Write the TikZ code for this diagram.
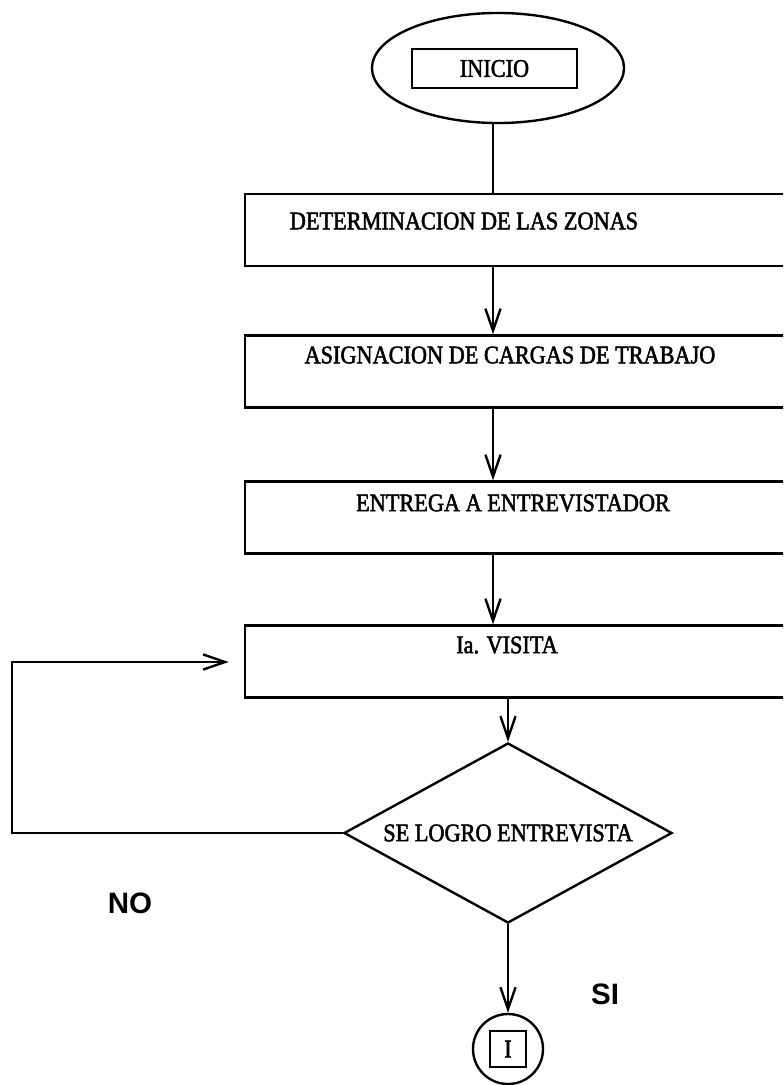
\documentclass[tikz,border=0pt]{standalone}
\usepackage{fontspec}
\setmainfont{Liberation Serif}
\newfontfamily\flowfont{Liberation Serif}[FakeStretch=0.88, FakeBold=2]
\newfontfamily\labelsans{Liberation Sans}
\usetikzlibrary{positioning, arrows.meta, shapes.geometric}

\begin{document}
\begin{tikzpicture}[x=0.025cm, y=-0.025cm, line width=1.7pt,
    procbox/.style={draw, rectangle, minimum width=13.875cm, minimum height=1.8cm, inner sep=0pt},
    boxlabel/.style={font=\flowfont\fontsize{18}{20}\selectfont, inner sep=0pt},
    answer/.style={font=\labelsans\bfseries\fontsize{21}{23}\selectfont, inner sep=0pt},
    flow/.style={-{Straight Barb[length=5.5mm, width=3.8mm]}}]
    % page frame, the boxes run past the right edge
    \clip (0,0) rectangle (783,1085);

    % start symbol
    \node[draw, ellipse, minimum width=6.3cm, minimum height=2.75cm] (start) at (498,68) {};
    \node[draw, minimum width=4.125cm, minimum height=0.975cm, boxlabel] (inicio) at (494.5,68.5) {INICIO};

    % process boxes
    \node[procbox] (zonas) at (522.5,230) {};
    \node[procbox] (cargas) at (522.5,371.5) {};
    \node[procbox] (entrega) at (522.5,517.5) {};
    \node[procbox] (visita) at (522.5,661.5) {};
    \node[boxlabel] (zonas-t) at (464,221) {DETERMINACION DE LAS ZONAS};
    \node[boxlabel] (cargas-t) at (510,355) {ASIGNACION DE CARGAS DE TRABAJO};
    \node[boxlabel] (entrega-t) at (513,503) {ENTREGA A ENTREVISTADOR};
    \node[boxlabel] (visita-t) at (507,645) {Ia. VISITA};

    % decision and off-page connector
    \node[draw, diamond, aspect=1.82, minimum width=8.2cm, minimum height=4.5cm, inner sep=0pt, boxlabel] (logro) at (508,833) {SE LOGRO ENTREVISTA};
    \node[draw, circle, minimum size=1.75cm, inner sep=0pt] (conn) at (508,1049) {};
    \node[draw, minimum size=0.9cm, inner sep=0pt, boxlabel] (conn-i) at (conn) {I};

    % answers
    \node[answer] (no) at (130,903) {NO};
    \node[answer] (si) at (605,994) {SI};

    % connectors
    \coordinate (spine) at (493,0);
    \coordinate (loop) at (12,662);
    \draw (start.south -| spine) -- (zonas.north -| spine);
    \draw[flow] (zonas.south -| spine) -- (cargas.north -| spine);
    \draw[flow] (cargas.south -| spine) -- (entrega.north -| spine);
    \draw[flow] (entrega.south -| spine) -- (visita.north -| spine);
    \draw[flow] (visita.south -| logro.north) -- (logro.north);
    \draw[flow] (logro.south) -- (conn.north);
    \draw[flow, shorten >=0.375cm] (logro.west) -| (loop) -- (visita.west |- loop);
\end{tikzpicture}
\end{document}
